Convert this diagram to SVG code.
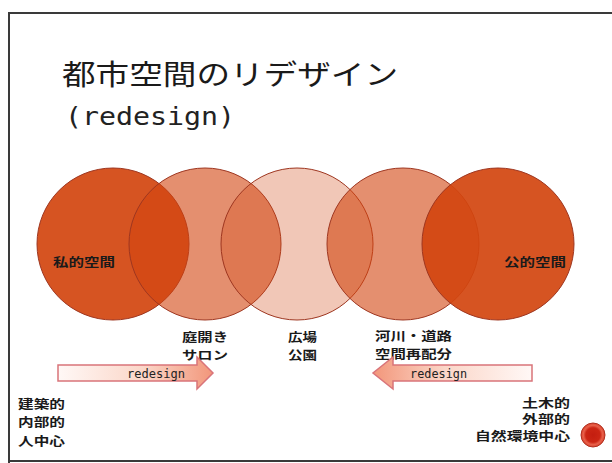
<svg xmlns="http://www.w3.org/2000/svg" width="612" height="463" viewBox="0 0 612 463">
  <style>
    .jp { font-family: "Noto Sans CJK JP", "Noto Sans CJK SC", sans-serif; fill: #1a1a1a; }
    .lbl { font-size: 12px; font-weight: bold; }
    .small { font-size: 12px; font-weight: bold; }
    .mono { font-family: "DejaVu Sans Mono", "Liberation Mono", monospace; fill: #222; }
    .circ { fill: #D2450F; stroke: #9E3620; stroke-width: 1; }
    .arrow { stroke: #D9747A; stroke-width: 1.5; stroke-linejoin: miter; }
  </style>
  <defs>
    <linearGradient id="gradR" x1="0" y1="0" x2="1" y2="0">
      <stop offset="0" stop-color="#FFF8F6"/>
      <stop offset="0.55" stop-color="#FBD6C8"/>
      <stop offset="1" stop-color="#F2967A"/>
    </linearGradient>
    <linearGradient id="gradL" x1="1" y1="0" x2="0" y2="0">
      <stop offset="0" stop-color="#FFF8F6"/>
      <stop offset="0.55" stop-color="#FBD6C8"/>
      <stop offset="1" stop-color="#F2967A"/>
    </linearGradient>
    <radialGradient id="dot" cx="0.5" cy="0.5" r="0.5">
      <stop offset="0" stop-color="#C41E10"/>
      <stop offset="0.6" stop-color="#CC2614"/>
      <stop offset="0.8" stop-color="#E8604A"/>
      <stop offset="1" stop-color="#D9442E"/>
    </radialGradient>
  </defs>
  <rect width="612" height="463" fill="#ffffff"/>
  <g id="frame" fill="none" stroke="#3a3a3a" stroke-width="2">
    <line x1="8" y1="13" x2="612" y2="13"/>
    <line x1="9" y1="12" x2="9" y2="463"/>
    <line x1="8" y1="461" x2="612" y2="461"/>
  </g>
  <g id="title">
    <text class="jp" x="62" y="85" font-size="28" textLength="336" lengthAdjust="spacingAndGlyphs">都市空間のリデザイン</text>
    <text class="mono" x="65" y="125" font-size="25" textLength="170" lengthAdjust="spacingAndGlyphs">(redesign)</text>
  </g>
  <g id="circles">
    <g id="c1"><circle class="circ" cx="113" cy="244" r="76" fill-opacity="0.92"/></g>
    <g id="c2"><circle class="circ" cx="205" cy="244" r="76" fill-opacity="0.6"/></g>
    <g id="c3"><circle class="circ" cx="297" cy="244" r="76" fill-opacity="0.3"/></g>
    <g id="c4"><circle class="circ" cx="403" cy="244" r="76" fill-opacity="0.6"/></g>
    <g id="c5"><circle class="circ" cx="498" cy="244" r="76" fill-opacity="0.92"/></g>
  </g>
  <g id="private-space">
    <text class="jp lbl" x="53" y="267" font-size="15" textLength="62" lengthAdjust="spacingAndGlyphs">私的空間</text>
  </g>
  <g id="public-space">
    <text class="jp lbl" x="504" y="267" font-size="15" textLength="62" lengthAdjust="spacingAndGlyphs">公的空間</text>
  </g>
  <g id="salon">
    <text class="jp lbl" x="182" y="342" textLength="46" lengthAdjust="spacingAndGlyphs">庭開き</text>
    <text class="jp lbl" x="182" y="360" textLength="46" lengthAdjust="spacingAndGlyphs">サロン</text>
  </g>
  <g id="plaza">
    <text class="jp lbl" x="288" y="342" textLength="29" lengthAdjust="spacingAndGlyphs">広場</text>
    <text class="jp lbl" x="288" y="360" textLength="29" lengthAdjust="spacingAndGlyphs">公園</text>
  </g>
  <g id="river-road">
    <text class="jp lbl" x="375" y="341" textLength="77" lengthAdjust="spacingAndGlyphs">河川・道路</text>
    <text class="jp lbl" x="375" y="359" textLength="77" lengthAdjust="spacingAndGlyphs">空間再配分</text>
  </g>
  <g id="connectors">
    <g id="arrow-left">
      <polygon class="arrow" fill="url(#gradR)" points="58,365 197,365 197,357 213,373 197,389 197,381 58,381"/>
      <text class="mono" x="127" y="378" font-size="12" textLength="58" lengthAdjust="spacingAndGlyphs">redesign</text>
    </g>
    <g id="arrow-right">
      <polygon class="arrow" fill="url(#gradL)" points="532,365 393,365 393,357 373,373 393,389 393,381 532,381"/>
      <text class="mono" x="410" y="378" font-size="12" textLength="57" lengthAdjust="spacingAndGlyphs">redesign</text>
    </g>
  </g>
  <g id="architectural">
    <text class="jp small" x="18" y="409" textLength="47" lengthAdjust="spacingAndGlyphs">建築的</text>
    <text class="jp small" x="18" y="427" textLength="47" lengthAdjust="spacingAndGlyphs">内部的</text>
    <text class="jp small" x="18" y="446" textLength="47" lengthAdjust="spacingAndGlyphs">人中心</text>
  </g>
  <g id="civil">
    <text class="jp small" x="522" y="408" textLength="48" lengthAdjust="spacingAndGlyphs">土木的</text>
    <text class="jp small" x="522" y="424" textLength="48" lengthAdjust="spacingAndGlyphs">外部的</text>
    <text class="jp small" x="475" y="441" textLength="95" lengthAdjust="spacingAndGlyphs">自然環境中心</text>
  </g>
  <g id="button">
    <circle cx="593" cy="435" r="12" fill="url(#dot)" stroke="#B03020" stroke-width="1"/>
  </g>
</svg>
